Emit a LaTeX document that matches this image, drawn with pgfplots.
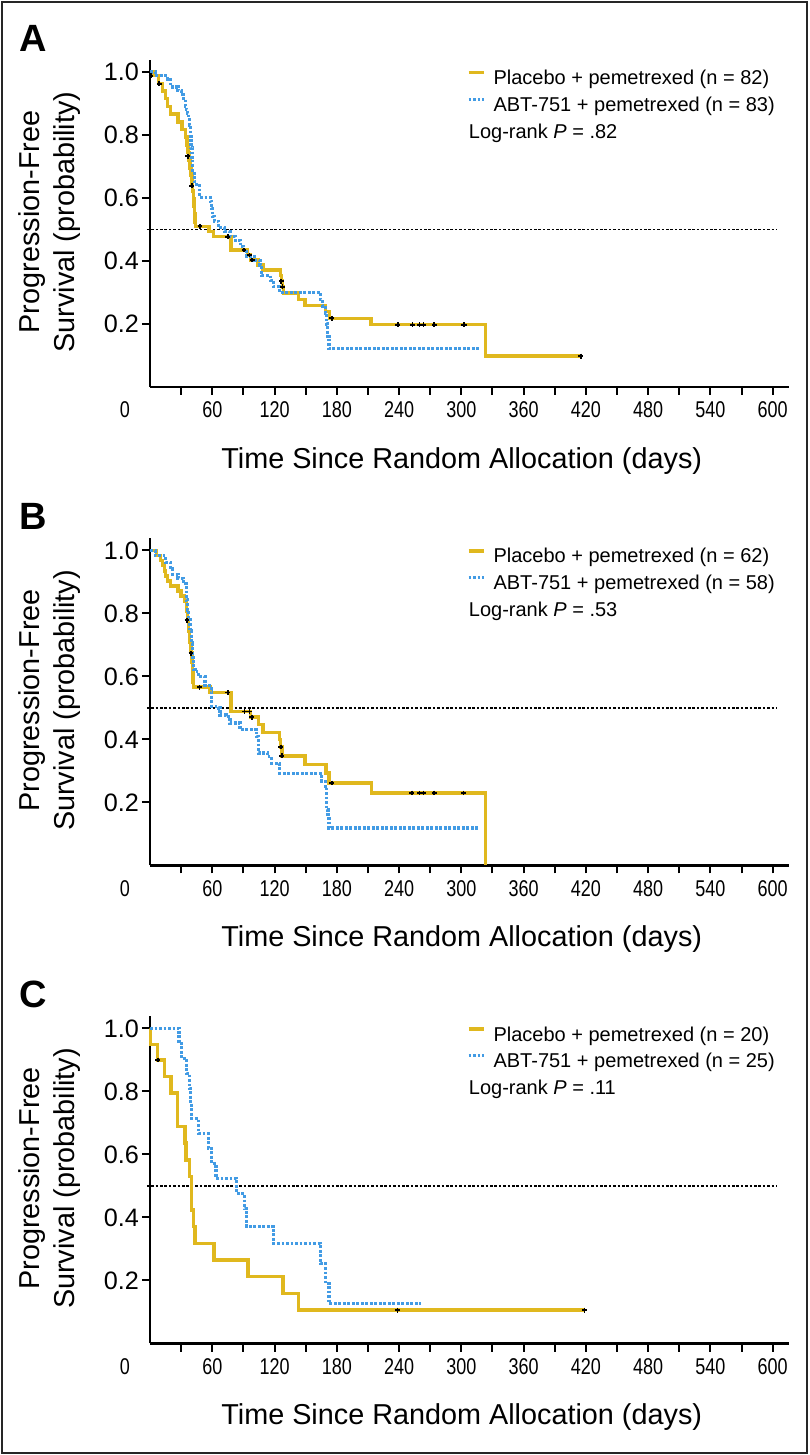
\documentclass[border=0pt]{standalone}
\usepackage{fontspec}
\setmainfont{Liberation Sans}
\newfontfamily\condfont[FakeStretch=0.79]{Liberation Sans}
\usepackage{pgfplots}
\pgfplotsset{compat=1.18}
\definecolor{kmyellow}{RGB}{224,184,30}
\definecolor{kmblue}{RGB}{66,155,228}
\pgfplotsset{
 km/.style={
  scale only axis, width=319.65pt, height=163.5pt,
  xmin=0, xmax=616, ymin=0, ymax=1.038,
  clip=false,
  axis x line*=bottom, axis y line*=left,
  axis line style={line width=1.2pt, black},
  xtick align=outside, ytick align=outside, major tick length=4pt,
  every tick/.style={black, line width=1pt},
  xtick={30,60,...,600},
  xticklabels={,60,,120,,180,,240,,300,,360,,420,,480,,540,,600},
  extra x ticks={0}, extra x tick labels={0},
  extra x tick style={major tick style={draw=none}, xticklabel style={xshift=-12.5pt}},
  ytick={0.2,0.4,0.6,0.8,1.0},
  yticklabels={0.2,0.4,0.6,0.8,1.0},
  xticklabel style={font=\condfont\fontsize{11.4}{13}\selectfont},
  yticklabel style={font=\fontsize{12.6}{14}\selectfont, xshift=2pt},
  xlabel={Time Since Random Allocation (days)},
  xlabel style={font=\fontsize{14.4}{17}\selectfont, at={(rel axis cs:0.4876,-0.2486)}, anchor=base},
  ylabel={Progression-Free\\Survival (probability)},
  ylabel style={font=\fontsize{14.4}{17.5}\selectfont, align=center, at={(rel axis cs:-0.1577,0.5046)}, anchor=center},
  legend style={at={(axis cs:305.3,1.011)}, anchor=north west, draw=none, fill=none,
    inner sep=0pt, outer sep=0pt, row sep=2.8pt,
    font=\fontsize{10}{12}\selectfont,
    nodes={inner sep=0pt, text height=8pt, text depth=2.5pt},
    /tikz/every odd column/.append style={column sep=4.15pt}},
  legend cell align=left,
  legend image code/.code={\draw[#1] (0pt,3.2pt) -- (7.5pt,3.2pt);},
 },
 yel/.style={const plot, color=kmyellow, line width=1.7pt},
 blu/.style={const plot, color=kmblue, line width=1.6pt, dash pattern=on 1.4pt off 0.85pt},
 cens/.style={only marks, mark=+, mark size=1.2pt, black, mark options={line width=0.9pt}, forget plot},
 half/.style={black, line width=0.8pt, dash pattern=on 1.3pt off 0.9pt, forget plot},
}
\begin{document}
\begin{tikzpicture}
\path[use as bounding box] (0,0) rectangle (404.5pt,727.5pt);
\draw[line width=0.85pt, black!85] (0.9pt,0.9pt) rectangle (403.6pt,726.6pt);

% ---------------- Panel A ----------------
\begin{axis}[km, at={(75pt,534pt)}, anchor=south west]
\addplot[half] coordinates {(-3,0.5) (604,0.5)};
\addplot[yel] table {
x y
0 1.0
3 0.988
8 0.963
12 0.939
15 0.915
17 0.890
20 0.866
27 0.841
31 0.817
34 0.793
35.5 0.768
36.5 0.744
37.5 0.720
38.5 0.695
39.5 0.671
40.5 0.646
41.2 0.622
41.8 0.598
42.4 0.573
43 0.549
43.5 0.524
44 0.51
57 0.494
61 0.477
78 0.435
94 0.419
97 0.403
104 0.387
109 0.371
125.5 0.354
126.8 0.336
127.8 0.318
128.6 0.298
143 0.278
149.5 0.259
169 0.240
173 0.218
213 0.198
323 0.098
415 0.098
};
\addlegendentry{Placebo + pemetrexed (n = 82)}
\addplot[blu] table {
x y
0 1.0
5 0.988
17 0.976
20 0.952
27 0.940
30 0.928
32 0.916
34 0.892
35 0.880
36 0.868
37 0.855
38 0.831
38.8 0.795
39.6 0.759
40.4 0.723
41.2 0.687
42.5 0.651
45 0.639
48 0.602
58 0.590
59.5 0.566
60.5 0.542
62 0.526
66 0.506
72 0.494
77 0.478
82 0.466
87 0.446
90 0.430
93 0.414
101 0.402
106 0.386
107.6 0.354
116 0.338
119 0.318
125 0.301
164 0.278
166 0.257
169 0.234
170 0.200
171 0.160
172.4 0.122
318 0.122
};
\addlegendentry{ABT-751 + pemetrexed (n = 83)}
\addplot[cens] table {
x y
1 0.988
9 0.963
36.3 0.732
40.2 0.639
48.2 0.51
75 0.477
90.6 0.435
95.8 0.419
98.4 0.403
126.6 0.336
127.6 0.318
175 0.218
238.8 0.198
253 0.198
259.7 0.198
263.6 0.198
274 0.198
302 0.198
303 0.198
415 0.098
};
\node[anchor=base west, inner sep=0pt, font=\fontsize{10}{12}\selectfont] at (axis cs:306.9,0.7895) {Log-rank \textit{P} = .82};
\node[font=\bfseries\fontsize{19}{22}\selectfont] at (rel axis cs:-0.1824,1.0664) {A};
\end{axis}

% ---------------- Panel B ----------------
\begin{axis}[km, at={(75pt,294.75pt)}, anchor=south west]
\addplot[half] coordinates {(-3,0.5) (604,0.5)};
\addplot[yel] table {
x y
0 1.0
6 0.984
10 0.968
12 0.952
14 0.935
15 0.919
17 0.903
20 0.887
27 0.871
30 0.855
33 0.839
35 0.806
36 0.774
37 0.742
38.2 0.710
39.5 0.677
40.5 0.645
41 0.613
41.5 0.582
42 0.566
58 0.549
78 0.489
97 0.471
104.5 0.447
109 0.422
125 0.400
126 0.376
127 0.348
149.5 0.320
169.4 0.294
172.5 0.262
213.4 0.230
323 0.0
};
\addlegendentry{Placebo + pemetrexed (n = 62)}
\addplot[blu] table {
x y
0 1.0
5 0.983
15 0.962
20 0.941
22 0.924
27 0.912
32 0.895
35 0.843
36 0.810
37 0.780
38.5 0.745
40 0.706
41 0.660
42 0.621
43.4 0.616
46.6 0.600
53 0.571
59 0.553
59.5 0.505
66 0.500
67.5 0.478
74 0.473
77 0.452
86.8 0.431
103 0.410
104.4 0.357
113 0.345
117.3 0.325
125 0.293
165.5 0.267
168.8 0.252
170.4 0.177
171.5 0.155
172.4 0.119
317 0.119
};
\addlegendentry{ABT-751 + pemetrexed (n = 58)}
\addplot[cens] table {
x y
35.7 0.778
39.5 0.674
47.6 0.566
74.9 0.549
91 0.489
95.8 0.489
98 0.471
126 0.376
127 0.348
175 0.262
252.3 0.230
259.7 0.230
263.6 0.230
273.9 0.230
302.1 0.230
};
\node[anchor=base west, inner sep=0pt, font=\fontsize{10}{12}\selectfont] at (axis cs:306.9,0.7895) {Log-rank \textit{P} = .53};
\node[font=\bfseries\fontsize{19}{22}\selectfont] at (rel axis cs:-0.1824,1.0664) {B};
\end{axis}

% ---------------- Panel C ----------------
\begin{axis}[km, at={(75pt,55.75pt)}, anchor=south west]
\addplot[half] coordinates {(-3,0.5) (604,0.5)};
\addplot[yel] table {
x y
0 1.0
0.5 0.95
7.4 0.90
13.8 0.847
20.3 0.795
26.7 0.689
33.8 0.636
34.7 0.583
37.9 0.530
40.2 0.424
41.8 0.371
43.4 0.318
61.7 0.265
94.4 0.212
128 0.159
143 0.106
418.7 0.106
};
\addlegendentry{Placebo + pemetrexed (n = 20)}
\addplot[blu] table {
x y
0 1.0
28 0.952
30.5 0.905
35.4 0.857
38 0.810
39 0.762
40.2 0.714
46.6 0.667
56 0.619
59.5 0.571
63.6 0.524
83.6 0.476
91 0.428
93 0.371
119 0.318
164 0.254
169 0.190
172.4 0.127
261 0.127
};
\addlegendentry{ABT-751 + pemetrexed (n = 25)}
\addplot[cens] table {
x y
7.4 0.90
238.4 0.106
418.7 0.106
};
\node[anchor=base west, inner sep=0pt, font=\fontsize{10}{12}\selectfont] at (axis cs:306.9,0.7895) {Log-rank \textit{P} = .11};
\node[font=\bfseries\fontsize{19}{22}\selectfont] at (rel axis cs:-0.1824,1.0664) {C};
\end{axis}
\end{tikzpicture}
\end{document}
